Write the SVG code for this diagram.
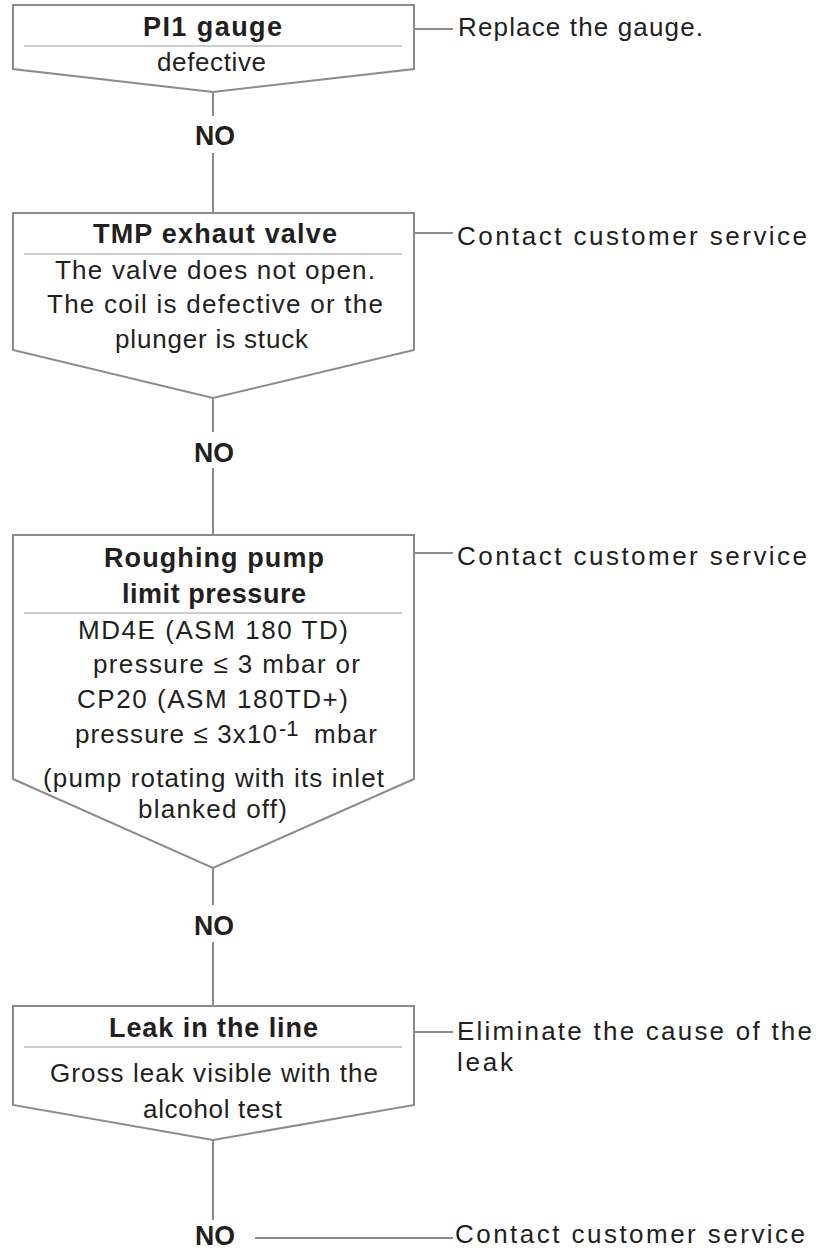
<svg xmlns="http://www.w3.org/2000/svg" width="821" height="1252" viewBox="0 0 821 1252">
<style>
.box{fill:#fff;stroke:#8c8c8e;stroke-width:2;stroke-linejoin:miter}
.div{stroke:#9a9a9c;stroke-width:1}
.con{stroke:#8c8c8e;stroke-width:2;fill:none}
text{font-family:"Liberation Sans",Arial,sans-serif;fill:#231f20}
.t{font-weight:bold;font-size:27px}
.b{font-size:26px}
.no{font-weight:bold;font-size:27px}
.r{font-size:26px}
.sup{font-size:22px}
</style>
<rect width="821" height="1252" fill="#fff"/>
<g id="connectors">
<line class="con" x1="213" y1="92" x2="213" y2="116"/>
<line class="con" x1="213" y1="153" x2="213" y2="213"/>
<line class="con" x1="213" y1="398" x2="213" y2="432"/>
<line class="con" x1="213" y1="468" x2="213" y2="535"/>
<line class="con" x1="213" y1="868" x2="213" y2="905"/>
<line class="con" x1="213" y1="942" x2="213" y2="1006"/>
<line class="con" x1="213" y1="1140" x2="213" y2="1220"/>
<line class="con" x1="414" y1="29" x2="453" y2="29"/>
<line class="con" x1="414" y1="233" x2="453" y2="233"/>
<line class="con" x1="414" y1="553" x2="453" y2="553"/>
<line class="con" x1="414" y1="1032" x2="453" y2="1032"/>
<line class="con" x1="255" y1="1238" x2="453" y2="1238"/>
<text class="no" x="195" y="145" textLength="40" lengthAdjust="spacingAndGlyphs">NO</text>
<text class="no" x="194" y="462" textLength="40" lengthAdjust="spacingAndGlyphs">NO</text>
<text class="no" x="194" y="935" textLength="40" lengthAdjust="spacingAndGlyphs">NO</text>
<text class="no" x="195" y="1245" textLength="40" lengthAdjust="spacingAndGlyphs">NO</text>
</g>
<g id="node-pi1">
<path class="box" d="M13,5 H414 V69 L213,92 L13,69 Z"/>
<line class="div" x1="24" y1="46" x2="402" y2="46"/>
<text class="t" x="143" y="36" textLength="139">PI1 gauge</text>
<text class="b" x="157" y="71" textLength="109">defective</text>
</g>
<g id="action-pi1">
<text class="r" x="458" y="36" textLength="245">Replace the gauge.</text>
</g>
<g id="node-tmp">
<path class="box" d="M13,213 H414 V350 L213,398 L13,350 Z"/>
<line class="div" x1="24" y1="254" x2="402" y2="254"/>
<text class="t" x="93" y="243" textLength="244">TMP exhaut valve</text>
<text class="b" x="55" y="279" textLength="320">The valve does not open.</text>
<text class="b" x="47" y="313" textLength="336">The coil is defective or the</text>
<text class="b" x="115" y="348" textLength="193">plunger is stuck</text>
</g>
<g id="action-tmp">
<text class="r" x="457" y="245" textLength="350">Contact customer service</text>
</g>
<g id="node-roughing">
<path class="box" d="M13,535 H414 V779 L213,868 L13,779 Z"/>
<line class="div" x1="24" y1="613" x2="402" y2="613"/>
<text class="t" x="104" y="567" textLength="220">Roughing pump</text>
<text class="t" x="122" y="603" textLength="184">limit pressure</text>
<text class="b" x="78" y="639" textLength="270">MD4E (ASM 180 TD)</text>
<text class="b" x="93" y="673" textLength="267">pressure ≤ 3 mbar or</text>
<text class="b" x="77" y="708" textLength="271">CP20 (ASM 180TD+)</text>
<text class="b" x="75" y="743" textLength="202">pressure ≤ 3x10</text>
<text class="sup" x="279" y="736">-1</text>
<text class="b" x="314" y="743" textLength="63">mbar</text>
<text class="b" x="43" y="787" textLength="341">(pump rotating with its inlet</text>
<text class="b" x="138" y="818" textLength="149">blanked off)</text>
</g>
<g id="action-roughing">
<text class="r" x="457" y="565" textLength="350">Contact customer service</text>
</g>
<g id="node-leak">
<path class="box" d="M13,1006 H414 V1105 L213,1140 L13,1105 Z"/>
<line class="div" x1="24" y1="1047" x2="402" y2="1047"/>
<text class="t" x="109" y="1037" textLength="209">Leak in the line</text>
<text class="b" x="50" y="1082" textLength="328">Gross leak visible with the</text>
<text class="b" x="143" y="1118" textLength="139">alcohol test</text>
</g>
<g id="action-leak">
<text class="r" x="457" y="1040" textLength="355">Eliminate the cause of the</text>
<text class="r" x="457" y="1071" textLength="56">leak</text>
</g>
<g id="action-final">
<text class="r" x="455" y="1243" textLength="350">Contact customer service</text>
</g>
</svg>
